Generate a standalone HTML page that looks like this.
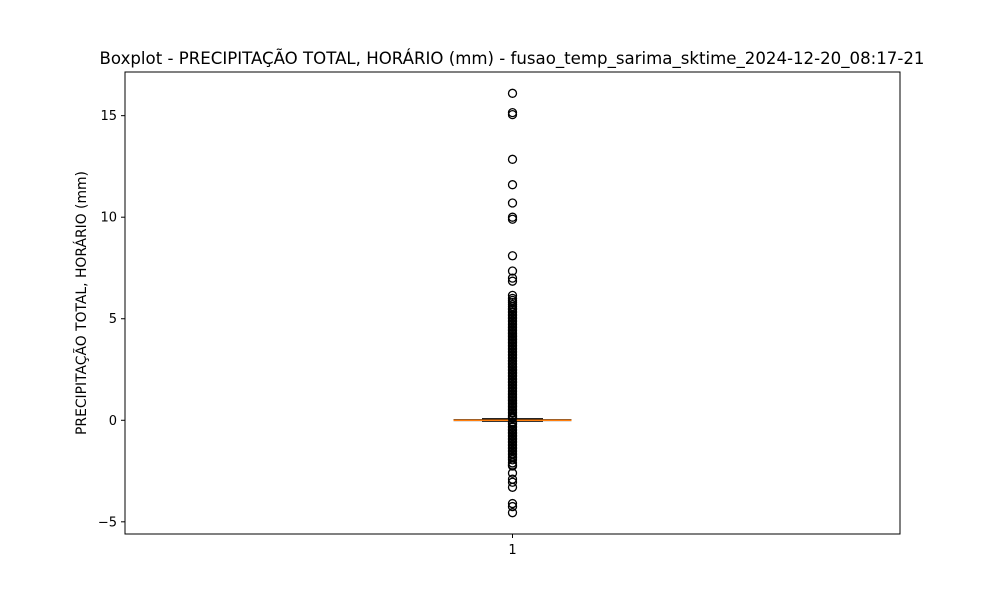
<!DOCTYPE html>
<html><head><meta charset="utf-8"><style>
body{margin:0;background:#fff;font-family:"Liberation Sans","DejaVu Sans",sans-serif}
text{font-family:"DejaVu Sans","Liberation Sans",sans-serif}
</style></head><body>
<svg id="chart" width="1000" height="600" xmlns="http://www.w3.org/2000/svg">
<rect width="1000" height="600" fill="#fff"/>
<text x="512" y="64" font-size="16.6" text-anchor="middle">Boxplot - PRECIPITAÇÃO TOTAL, HORÁRIO (mm) - fusao_temp_sarima_sktime_2024-12-20_08:17-21</text>
<text transform="translate(86,303) rotate(-90)" font-size="13.9" text-anchor="middle">PRECIPITAÇÃO TOTAL, HORÁRIO (mm)</text>
<g id="marks"></g>
<rect x="125" y="72" width="775" height="462" fill="none" stroke="#000" stroke-width="1"/>
<g id="axes"></g>
</svg>
<script>
const yTicks=[-5,0,5,10,15];
const categories=["1"];
const q1=[-0.05], q3=[0.08], median=[0.0], whiskLo=[-0.02], whiskHi=[0.03];
const outliers=[16.1,15.15,15.05,12.85,11.6,10.7,10.0,9.9,8.1,7.35,7.0,6.85,6.15,6.0,5.9,5.8,5.7,5.6,5.5,5.45,5.35,5.3,5.2,5.15,5.05,5.0,4.9,4.85,4.75,4.7,4.6,4.55,4.45,4.4,4.3,4.25,4.15,4.1,4.0,3.95,3.85,3.8,3.7,3.65,3.55,3.5,3.4,3.35,3.25,3.2,3.1,3.05,2.95,2.9,2.8,2.75,2.65,2.6,2.5,2.45,2.35,2.3,2.2,2.15,2.05,2.0,1.9,1.85,1.75,1.7,1.6,1.55,1.45,1.4,1.3,1.25,1.15,1.1,1.0,0.95,0.85,0.8,0.7,0.65,0.55,0.5,0.4,0.35,0.25,0.2,0.15,0.1,-0.1,-0.15,-0.2,-0.3,-0.35,-0.45,-0.5,-0.6,-0.65,-0.75,-0.8,-0.9,-0.95,-1.05,-1.1,-1.2,-1.25,-1.35,-1.4,-1.5,-1.55,-1.65,-1.7,-1.8,-1.85,-1.95,-2.1,-2.2,-2.25,-2.6,-2.9,-3.05,-3.3,-4.1,-4.25,-4.55];
const NS="http://www.w3.org/2000/svg";
const pTop=72,pBot=534,pLeft=125,pRight=900;
const yMin=-5.6,yMax=17.15;
const y=v=>pBot-(v-yMin)/(yMax-yMin)*(pBot-pTop);
const x=i=>pLeft+(i+0.5)/categories.length*(pRight-pLeft);
function mk(tag,at,par){const e=document.createElementNS(NS,tag);for(const k in at)e.setAttribute(k,at[k]);par.appendChild(e);return e;}
const axes=document.getElementById('axes'),marks=document.getElementById('marks');
yTicks.forEach(t=>{
  const g=mk('g',{},axes);
  
  
  mk('line',{x1:pLeft-4,x2:pLeft,y1:y(t),y2:y(t),stroke:'#000'},g);
  const tx=mk('text',{x:pLeft-8,y:y(t)+4.5,'font-size':13,'text-anchor':'end'},g);
  tx.textContent=t<0?'\u2212'+Math.abs(t):String(t);
});
categories.forEach((c,i)=>{
  const cx=x(i);
  const g=mk('g',{},axes);
  
  
  mk('line',{x1:cx,x2:cx,y1:pBot,y2:pBot+4,stroke:'#000'},g);
  const tx=mk('text',{x:cx,y:pBot+20,'font-size':13,'text-anchor':'middle'},g);tx.textContent=c;
  const b=mk('g',{},marks);
  
  
  mk('line',{x1:cx,x2:cx,y1:y(whiskHi[i]),y2:y(q3[i]),stroke:'#000'},b);
  mk('line',{x1:cx,x2:cx,y1:y(whiskLo[i]),y2:y(q1[i]),stroke:'#000'},b);
  mk('line',{x1:cx-59,x2:cx+59,y1:y(whiskHi[i]),y2:y(whiskHi[i]),stroke:'#000'},b);
  mk('line',{x1:cx-59,x2:cx+59,y1:y(whiskLo[i]),y2:y(whiskLo[i]),stroke:'#000'},b);
  mk('rect',{x:cx-30,y:y(q3[i]),width:60,height:Math.max(1,y(q1[i])-y(q3[i])),fill:'#000',stroke:'#000'},b);
  mk('line',{x1:cx-59,x2:cx+59,y1:y(median[i]),y2:y(median[i]),stroke:'#ff7f0e','stroke-width':1.5},b);
  outliers.forEach((v,k)=>{
    const o=mk('circle',{cx:cx,cy:y(v),r:4,fill:'none',stroke:'#000','stroke-width':1.3},marks);
    
    
  });
});
</script>
</body></html>
